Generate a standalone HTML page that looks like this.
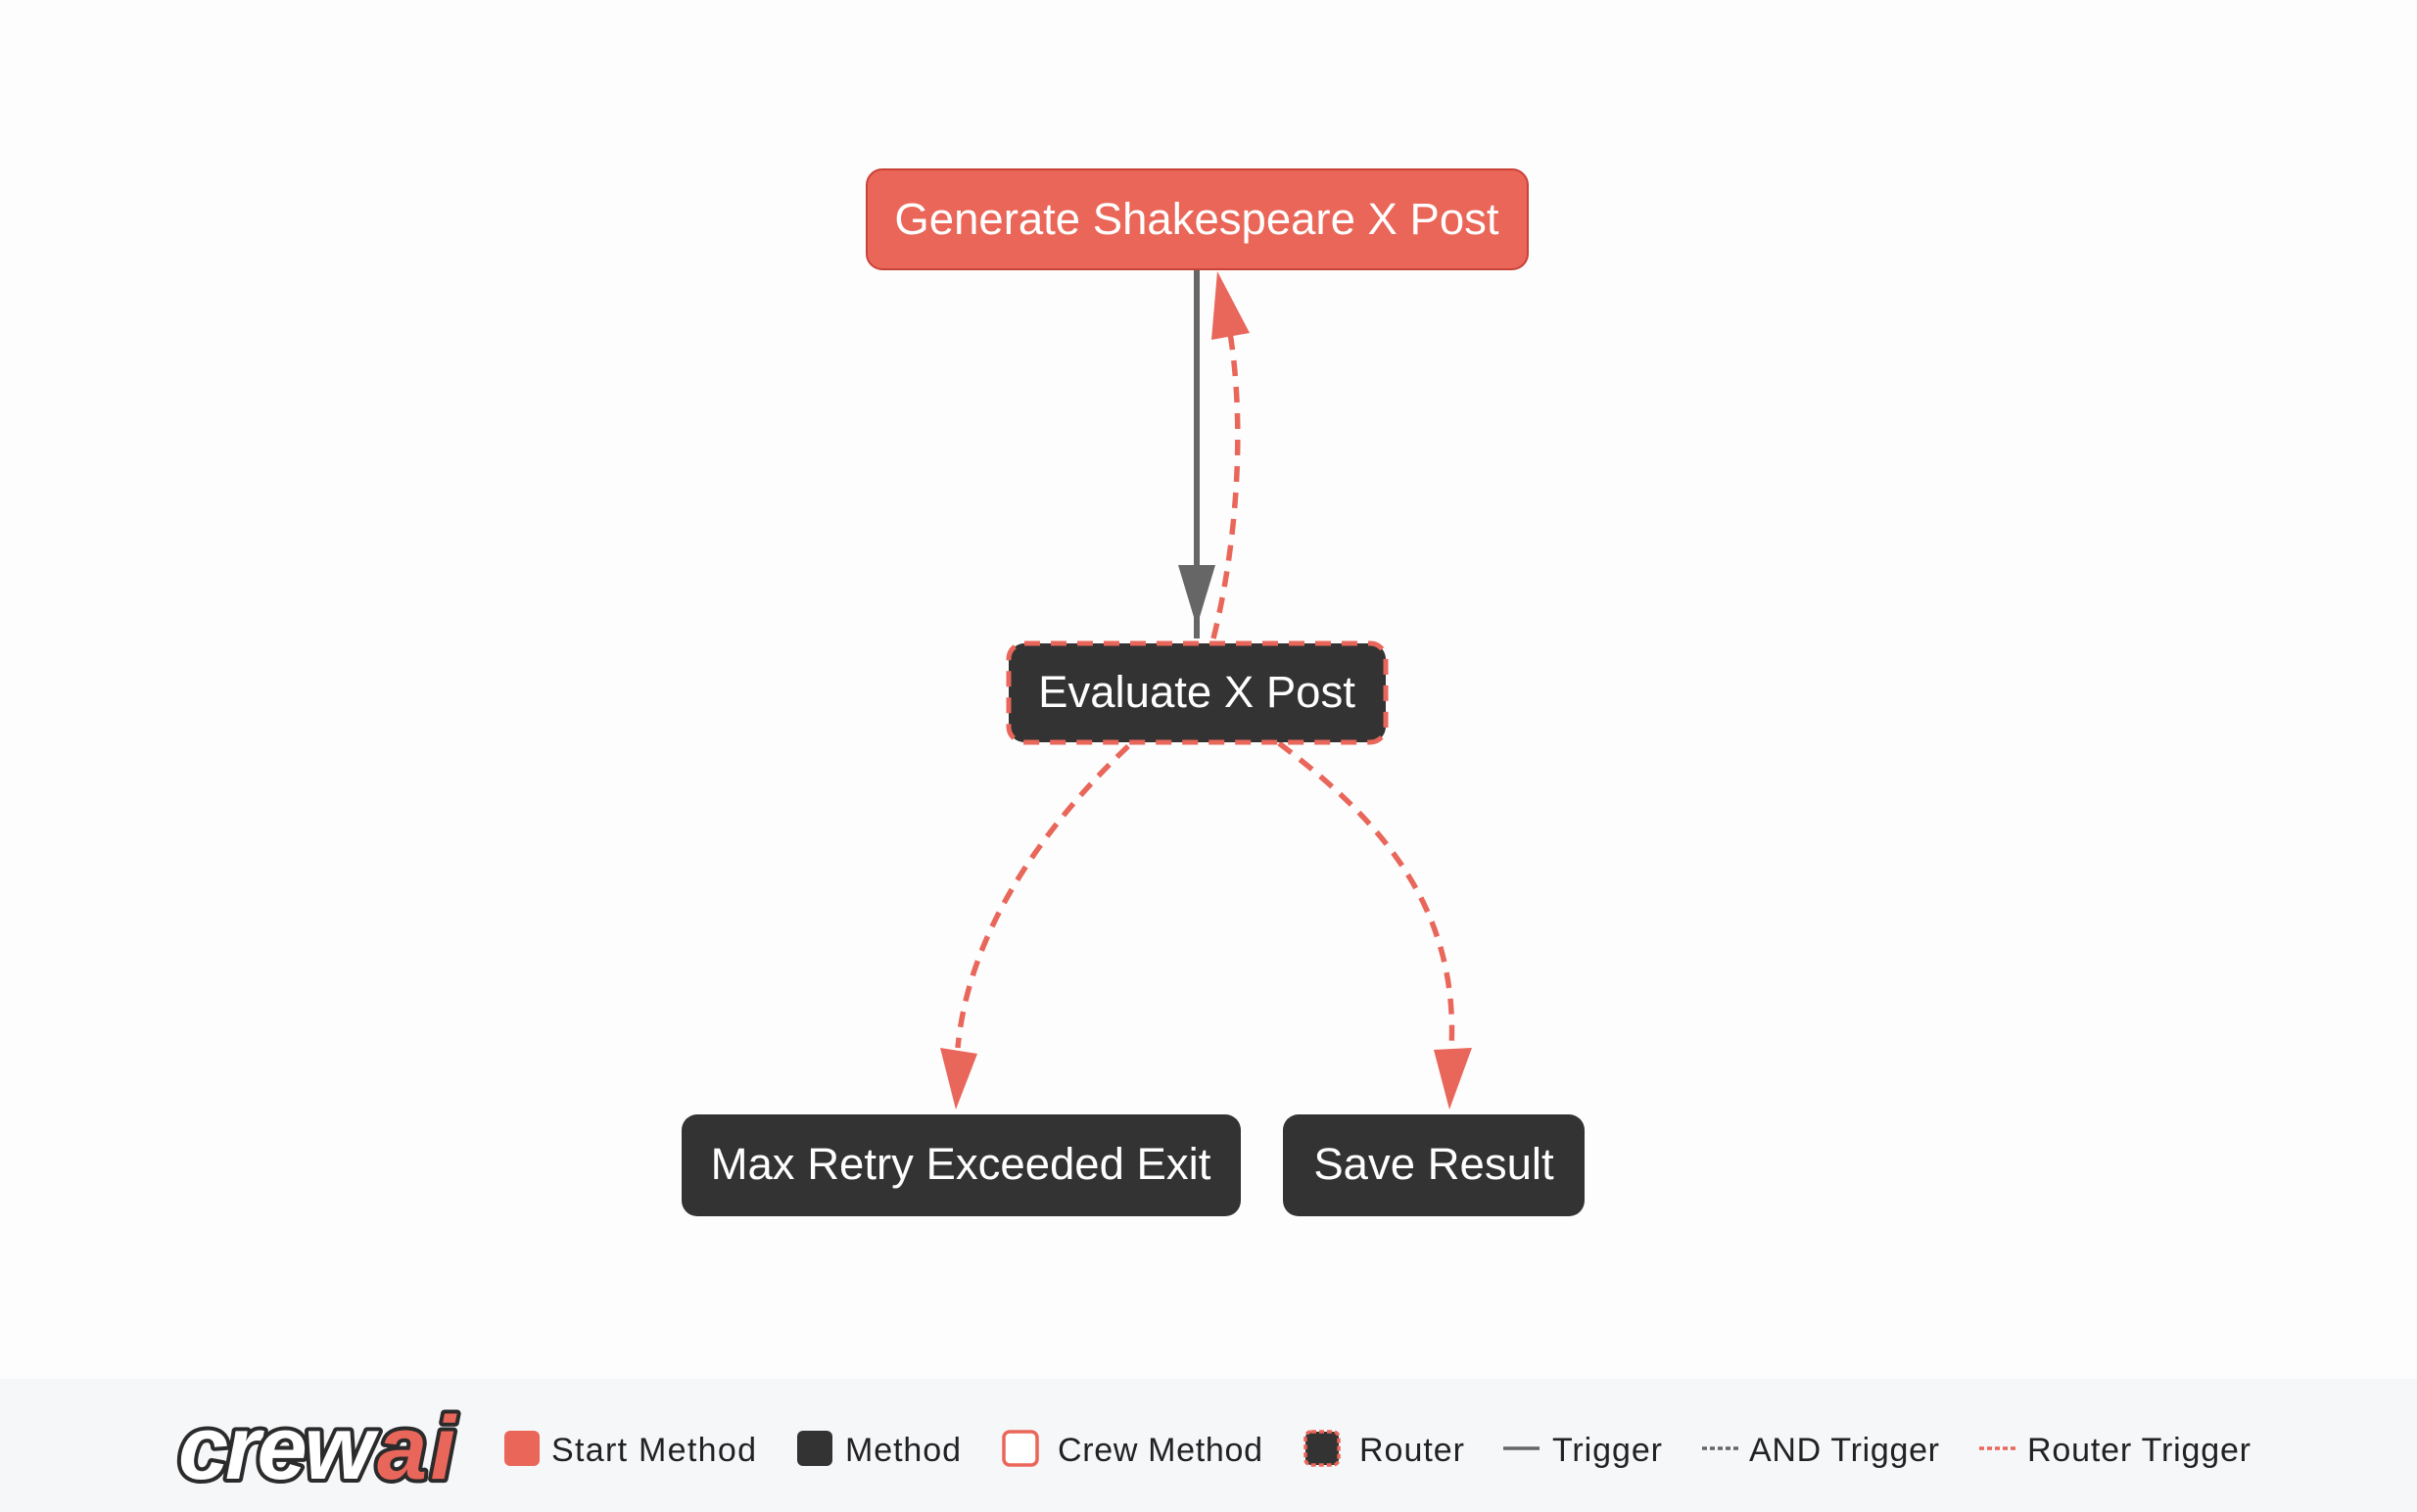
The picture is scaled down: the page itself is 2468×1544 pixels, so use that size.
<!DOCTYPE html>
<html><head><meta charset="utf-8"><style>
html,body{margin:0;padding:0;background:#fdfdfd;}
svg{display:block;}
text{font-family:"Liberation Sans",Arial,sans-serif;}
</style></head><body>
<svg width="2468" height="1544" viewBox="0 0 2468 1544" xmlns="http://www.w3.org/2000/svg">
<rect width="2468" height="1544" fill="#fdfdfd"/>
<!-- edges -->
<line x1="1222" y1="275" x2="1222" y2="652" stroke="#666" stroke-width="6"/>
<polygon points="1203,577 1241,577 1222,640" fill="#666"/>
<path d="M1239,652 C1262,560 1272,440 1256,340" fill="none" stroke="#e9665a" stroke-width="5.5" stroke-dasharray="16,11"/>
<polygon points="1243,277 1276,340 1237,347" fill="#e9665a"/>
<path d="M1152,762 C1080,830 990,940 978,1070" fill="none" stroke="#e9665a" stroke-width="5.5" stroke-dasharray="16,11"/>
<polygon points="960,1070 998,1076 976,1133" fill="#e9665a"/>
<path d="M1306,759 C1400,830 1490,920 1482,1070" fill="none" stroke="#e9665a" stroke-width="5.5" stroke-dasharray="16,11"/>
<polygon points="1464,1072 1503,1070 1480,1133" fill="#e9665a"/>
<!-- nodes -->
<rect x="885" y="173" width="675" height="102" rx="16" fill="#ea6658" stroke="#c94238" stroke-width="2"/>
<text x="1222" y="239" font-size="45.5" fill="#fff" text-anchor="middle">Generate Shakespeare X Post</text>
<rect x="1030" y="657" width="385" height="101" rx="16" fill="#333" stroke="#e9665a" stroke-width="5" stroke-dasharray="16,11"/>
<text x="1222" y="722" font-size="45.5" fill="#fff" text-anchor="middle">Evaluate X Post</text>
<rect x="696" y="1138" width="571" height="104" rx="16" fill="#333"/>
<text x="981" y="1204" font-size="45.5" fill="#fff" text-anchor="middle">Max Retry Exceeded Exit</text>
<rect x="1310" y="1138" width="308" height="104" rx="16" fill="#333"/>
<text x="1464" y="1204" font-size="45.5" fill="#fff" text-anchor="middle">Save Result</text>
<!-- legend -->
<rect x="0" y="1408" width="2468" height="136" fill="#f6f7f9"/>
<g font-style="italic" font-weight="bold" font-size="92" stroke-linejoin="round">
<text x="182" y="1510" fill="#fff" stroke="#2b2b2b" stroke-width="8" paint-order="stroke" textLength="200">crew</text>
<text x="385" y="1510" fill="#e9665a" stroke="#2b2b2b" stroke-width="8" paint-order="stroke" textLength="80">ai</text>
</g>
<g font-size="34" fill="#222">
<rect x="515" y="1461" width="36" height="36" rx="6" fill="#ea6658"/>
<text x="563" y="1492" textLength="209">Start Method</text>
<rect x="814" y="1461" width="36" height="36" rx="6" fill="#333"/>
<text x="863" y="1492" textLength="118">Method</text>
<rect x="1025" y="1462" width="34" height="34" rx="6" fill="#fff" stroke="#ea6658" stroke-width="3.5"/>
<text x="1080" y="1492" textLength="209">Crew Method</text>
<rect x="1333" y="1462" width="34" height="34" rx="6" fill="#333" stroke="#ea6658" stroke-width="3.5" stroke-dasharray="5,3"/>
<text x="1388" y="1492" textLength="107">Router</text>
<line x1="1535" y1="1479" x2="1572" y2="1479" stroke="#666" stroke-width="3.5"/>
<text x="1585" y="1492" textLength="112">Trigger</text>
<line x1="1738" y1="1479" x2="1776" y2="1479" stroke="#666" stroke-width="3.5" stroke-dasharray="5,3"/>
<text x="1786" y="1492" textLength="194">AND Trigger</text>
<line x1="2021" y1="1479" x2="2059" y2="1479" stroke="#ea6658" stroke-width="3.5" stroke-dasharray="5,3"/>
<text x="2070" y="1492" textLength="228">Router Trigger</text>
</g>
</svg>
</body></html>
